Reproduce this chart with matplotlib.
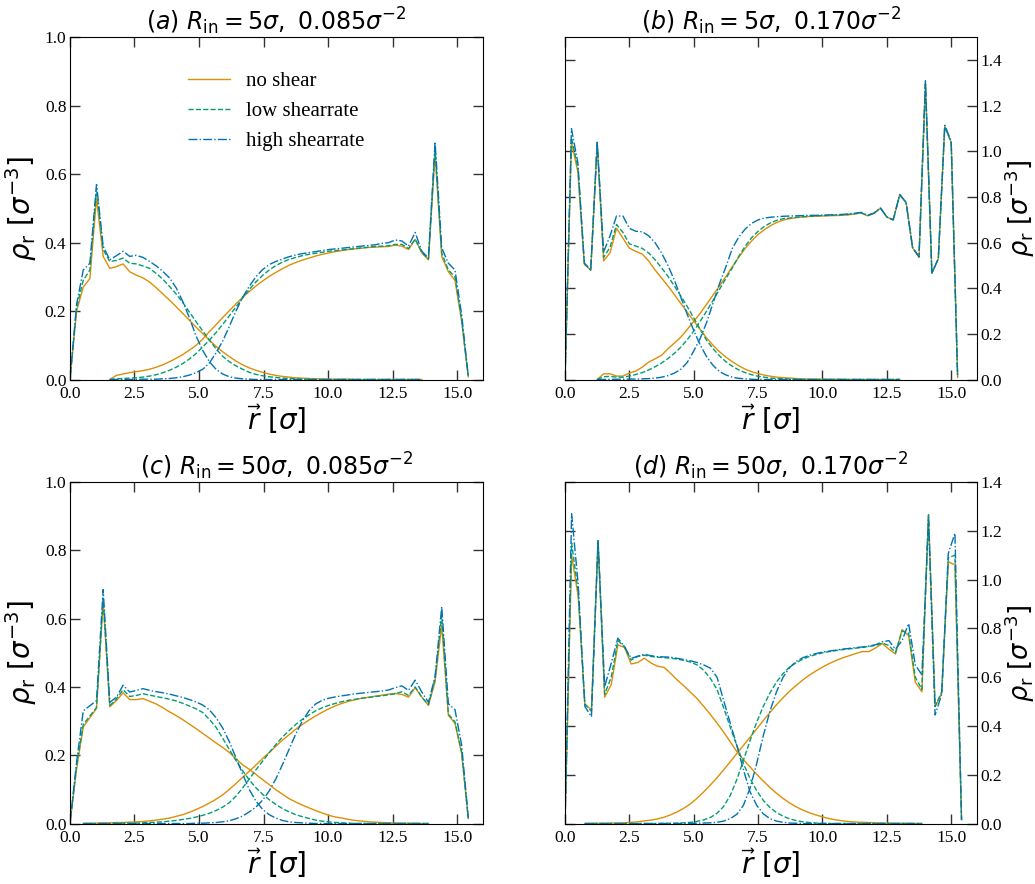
import numpy as np
import matplotlib
matplotlib.use('Agg')
import matplotlib.pyplot as plt

plt.rcParams['font.family'] = 'serif'
plt.rcParams['font.serif'] = ['Liberation Serif', 'DejaVu Serif']
plt.rcParams['mathtext.fontset'] = 'dejavusans'

# radial bins of the four profiles
r_a = np.arange(61) * 0.2572
r_b = np.arange(62) * 0.25
r_c = np.arange(61) * 0.2572
r_d = np.arange(61) * 0.2567

# (a) R_in = 5, 0.085 -- species 1 starts at r=0, species 2 ends at the wall
a1_none = [0.0, 0.20, 0.27, 0.295, 0.53, 0.36, 0.325, 0.33, 0.338, 0.315,
           0.305, 0.297, 0.285, 0.268, 0.25, 0.232, 0.213, 0.193, 0.173, 0.153,
           0.134, 0.115, 0.097, 0.081, 0.067, 0.054, 0.043, 0.034, 0.027, 0.021,
           0.016, 0.012, 0.009, 0.007, 0.005, 0.004, 0.003, 0.002, 0.002, 0.001,
           0.001, 0.001, 0.001, 0.0, 0.0, 0.0, 0.0, 0.0, 0.0, 0.0,
           0.0, 0.0, 0.0, 0.0]
a1_low = [0.0, 0.21, 0.29, 0.32, 0.56, 0.38, 0.345, 0.348, 0.355, 0.34,
          0.338, 0.332, 0.325, 0.31, 0.293, 0.272, 0.25, 0.225, 0.197, 0.169,
          0.142, 0.115, 0.09, 0.068, 0.052, 0.04, 0.03, 0.021, 0.015, 0.011,
          0.008, 0.006, 0.004, 0.003, 0.002, 0.001, 0.001, 0.0, 0.0, 0.0,
          0.0, 0.0, 0.0, 0.0, 0.0, 0.0, 0.0, 0.0, 0.0, 0.0,
          0.0, 0.0, 0.0, 0.0]
a1_high = [0.0, 0.22, 0.32, 0.34, 0.57, 0.39, 0.35, 0.362, 0.375, 0.36,
           0.363, 0.357, 0.345, 0.332, 0.316, 0.297, 0.268, 0.228, 0.18, 0.127,
           0.085, 0.052, 0.03, 0.016, 0.008, 0.004, 0.002, 0.001, 0.0, 0.0,
           0.0, 0.0, 0.0, 0.0, 0.0, 0.0, 0.0, 0.0, 0.0, 0.0,
           0.0, 0.0, 0.0, 0.0, 0.0, 0.0, 0.0, 0.0, 0.0, 0.0,
           0.0, 0.0, 0.0, 0.0]
a2_none = [0.0, 0.012, 0.016, 0.02, 0.023, 0.026, 0.03, 0.036, 0.043, 0.052,
           0.062, 0.073, 0.086, 0.1, 0.118, 0.14, 0.16, 0.181, 0.201, 0.221,
           0.24, 0.257, 0.273, 0.288, 0.301, 0.313, 0.324, 0.334, 0.342, 0.349,
           0.355, 0.361, 0.366, 0.37, 0.374, 0.377, 0.38, 0.382, 0.384, 0.386,
           0.387, 0.388, 0.389, 0.393, 0.39, 0.38, 0.41, 0.37, 0.35, 0.66,
           0.36, 0.315, 0.29, 0.17, 0.008]
a2_low = [0.0, 0.002, 0.003, 0.004, 0.005, 0.007, 0.01, 0.014, 0.02, 0.027,
          0.036, 0.047, 0.06, 0.076, 0.095, 0.115, 0.137, 0.161, 0.186, 0.212,
          0.238, 0.263, 0.285, 0.304, 0.32, 0.333, 0.343, 0.351, 0.357, 0.362,
          0.366, 0.369, 0.372, 0.375, 0.377, 0.379, 0.381, 0.383, 0.385, 0.387,
          0.389, 0.39, 0.391, 0.395, 0.395, 0.383, 0.41, 0.372, 0.352, 0.675,
          0.37, 0.32, 0.3, 0.175, 0.008]
a2_high = [0.0, 0.0, 0.0, 0.0, 0.0, 0.001, 0.001, 0.001, 0.002, 0.003,
           0.005, 0.008, 0.013, 0.02, 0.03, 0.048, 0.078, 0.112, 0.155, 0.2,
           0.24, 0.272, 0.3, 0.321, 0.336, 0.345, 0.352, 0.359, 0.364, 0.368,
           0.371, 0.374, 0.377, 0.38, 0.382, 0.384, 0.386, 0.388, 0.39, 0.392,
           0.394, 0.398, 0.4, 0.408, 0.405, 0.39, 0.43, 0.375, 0.355, 0.695,
           0.385, 0.34, 0.32, 0.19, 0.01]

# (b) R_in = 5, 0.170
b1_none = [0.0, 1.04, 0.91, 0.505, 0.48, 1.035, 0.52, 0.556, 0.663, 0.62,
           0.576, 0.562, 0.55, 0.52, 0.48, 0.445, 0.41, 0.372, 0.333, 0.295,
           0.257, 0.22, 0.182, 0.15, 0.122, 0.098, 0.078, 0.06, 0.045, 0.034,
           0.026, 0.019, 0.014, 0.01, 0.008, 0.006, 0.004, 0.003, 0.002, 0.002,
           0.001, 0.001, 0.001, 0.001, 0.0, 0.0, 0.0, 0.0, 0.0, 0.0,
           0.0, 0.0, 0.0]
b1_low = [0.0, 1.06, 0.93, 0.51, 0.48, 1.04, 0.535, 0.58, 0.68, 0.645,
          0.595, 0.585, 0.575, 0.555, 0.525, 0.49, 0.452, 0.41, 0.366, 0.32,
          0.27, 0.22, 0.172, 0.135, 0.104, 0.078, 0.058, 0.042, 0.03, 0.021,
          0.014, 0.01, 0.006, 0.004, 0.003, 0.002, 0.001, 0.0, 0.0, 0.0,
          0.0, 0.0, 0.0, 0.0, 0.0, 0.0, 0.0, 0.0, 0.0, 0.0,
          0.0, 0.0, 0.0]
b1_high = [0.0, 1.10, 0.95, 0.51, 0.48, 1.04, 0.56, 0.63, 0.717, 0.717,
           0.663, 0.65, 0.648, 0.63, 0.6, 0.555, 0.5, 0.435, 0.36, 0.285,
           0.215, 0.152, 0.1, 0.062, 0.035, 0.02, 0.01, 0.005, 0.003, 0.001,
           0.0, 0.0, 0.0, 0.0, 0.0, 0.0, 0.0, 0.0, 0.0, 0.0,
           0.0, 0.0, 0.0, 0.0, 0.0, 0.0, 0.0, 0.0, 0.0, 0.0,
           0.0, 0.0, 0.0]
b2_none = [0.0, 0.025, 0.025, 0.015, 0.015, 0.028, 0.037, 0.054, 0.076, 0.091,
           0.106, 0.135, 0.16, 0.186, 0.22, 0.255, 0.29, 0.33, 0.37, 0.41,
           0.452, 0.495, 0.537, 0.575, 0.608, 0.636, 0.658, 0.676, 0.69, 0.7,
           0.706, 0.71, 0.713, 0.715, 0.716, 0.717, 0.718, 0.719, 0.72, 0.722,
           0.726, 0.73, 0.718, 0.728, 0.751, 0.712, 0.70, 0.81, 0.775, 0.578,
           0.537, 1.30, 0.466, 0.53, 1.11, 1.04, 0.01]
b2_low = [0.0, 0.012, 0.014, 0.01, 0.01, 0.015, 0.022, 0.03, 0.042, 0.056,
          0.072, 0.092, 0.115, 0.142, 0.175, 0.212, 0.255, 0.3, 0.347, 0.395,
          0.443, 0.49, 0.54, 0.585, 0.622, 0.65, 0.672, 0.688, 0.699, 0.706,
          0.708, 0.712, 0.714, 0.716, 0.718, 0.719, 0.72, 0.721, 0.722, 0.724,
          0.727, 0.731, 0.719, 0.729, 0.752, 0.713, 0.70, 0.81, 0.776, 0.578,
          0.537, 1.30, 0.466, 0.53, 1.11, 1.04, 0.01]
b2_high = [0.0, 0.0, 0.001, 0.001, 0.001, 0.002, 0.002, 0.003, 0.004, 0.006,
           0.01, 0.017, 0.028, 0.045, 0.075, 0.125, 0.18, 0.25, 0.335, 0.42,
           0.495, 0.575, 0.625, 0.66, 0.685, 0.7, 0.708, 0.712, 0.714, 0.716,
           0.717, 0.718, 0.719, 0.72, 0.72, 0.721, 0.722, 0.723, 0.724, 0.726,
           0.729, 0.733, 0.72, 0.73, 0.753, 0.713, 0.70, 0.812, 0.776, 0.579,
           0.538, 1.31, 0.466, 0.53, 1.115, 1.045, 0.01]

# (c) R_in = 50, 0.085
c1_none = [0.0, 0.16, 0.283, 0.31, 0.337, 0.65, 0.342, 0.36, 0.383, 0.363,
           0.363, 0.366, 0.358, 0.35, 0.339, 0.327, 0.316, 0.304, 0.291, 0.278,
           0.264, 0.25, 0.236, 0.223, 0.208, 0.19, 0.172, 0.159, 0.144, 0.129,
           0.114, 0.099, 0.086, 0.073, 0.063, 0.054, 0.046, 0.038, 0.031, 0.024,
           0.019, 0.016, 0.012, 0.009, 0.007, 0.005, 0.004, 0.003, 0.002, 0.002,
           0.001, 0.001, 0.001, 0.0, 0.0]
c1_low = [0.0, 0.17, 0.29, 0.315, 0.34, 0.66, 0.345, 0.365, 0.392, 0.372,
          0.375, 0.38, 0.376, 0.372, 0.368, 0.364, 0.359, 0.352, 0.344, 0.336,
          0.325, 0.305, 0.282, 0.25, 0.217, 0.185, 0.155, 0.128, 0.105, 0.086,
          0.07, 0.056, 0.044, 0.034, 0.026, 0.02, 0.015, 0.01, 0.007, 0.005,
          0.003, 0.002, 0.001, 0.0, 0.0, 0.0, 0.0, 0.0, 0.0, 0.0,
          0.0, 0.0, 0.0, 0.0, 0.0]
c1_high = [0.0, 0.18, 0.33, 0.345, 0.36, 0.685, 0.355, 0.37, 0.405, 0.385,
           0.39, 0.395, 0.39, 0.386, 0.383, 0.379, 0.374, 0.369, 0.363, 0.356,
           0.347, 0.333, 0.31, 0.28, 0.24, 0.193, 0.145, 0.1, 0.066, 0.042,
           0.026, 0.016, 0.009, 0.005, 0.003, 0.002, 0.001, 0.0, 0.0, 0.0,
           0.0, 0.0, 0.0, 0.0, 0.0, 0.0, 0.0, 0.0, 0.0, 0.0,
           0.0, 0.0, 0.0, 0.0, 0.0]
c2_none = [0.0, 0.001, 0.001, 0.002, 0.002, 0.003, 0.003, 0.004, 0.005, 0.006,
           0.008, 0.01, 0.013, 0.016, 0.021, 0.026, 0.033, 0.041, 0.05, 0.06,
           0.071, 0.084, 0.1, 0.117, 0.135, 0.153, 0.171, 0.19, 0.208, 0.226,
           0.244, 0.26, 0.276, 0.29, 0.303, 0.315, 0.326, 0.336, 0.345, 0.352,
           0.358, 0.363, 0.367, 0.37, 0.373, 0.376, 0.379, 0.381, 0.378, 0.37,
           0.398, 0.37, 0.346, 0.415, 0.58, 0.317, 0.293, 0.205, 0.015]
c2_low = [0.0, 0.0, 0.0, 0.0, 0.0, 0.001, 0.001, 0.001, 0.001, 0.002,
          0.003, 0.004, 0.005, 0.007, 0.009, 0.012, 0.015, 0.019, 0.024, 0.03,
          0.038, 0.048, 0.061, 0.08, 0.104, 0.13, 0.157, 0.182, 0.207, 0.231,
          0.253, 0.272, 0.29, 0.305, 0.318, 0.33, 0.339, 0.346, 0.352, 0.357,
          0.361, 0.364, 0.367, 0.369, 0.372, 0.374, 0.377, 0.38, 0.386, 0.375,
          0.4, 0.37, 0.348, 0.425, 0.61, 0.32, 0.298, 0.21, 0.015]
c2_high = [0.0, 0.0, 0.0, 0.0, 0.0, 0.0, 0.0, 0.0, 0.0, 0.0,
           0.0, 0.0, 0.0, 0.0, 0.0, 0.0, 0.0, 0.001, 0.001, 0.002,
           0.003, 0.005, 0.008, 0.014, 0.022, 0.034, 0.048, 0.068, 0.095, 0.13,
           0.172, 0.217, 0.262, 0.3, 0.33, 0.35, 0.361, 0.367, 0.371, 0.374,
           0.377, 0.38, 0.382, 0.384, 0.386, 0.388, 0.391, 0.398, 0.403, 0.39,
           0.42, 0.385, 0.355, 0.43, 0.635, 0.351, 0.333, 0.23, 0.018]

# (d) R_in = 50, 0.170
d1_none = [0.0, 1.10, 0.93, 0.49, 0.466, 1.16, 0.518, 0.57, 0.732, 0.722,
           0.654, 0.66, 0.678, 0.658, 0.645, 0.64, 0.615, 0.588, 0.564, 0.538,
           0.512, 0.48, 0.447, 0.412, 0.375, 0.335, 0.295, 0.262, 0.232, 0.202,
           0.174, 0.148, 0.124, 0.103, 0.084, 0.068, 0.055, 0.044, 0.035, 0.027,
           0.02, 0.015, 0.011, 0.008, 0.006, 0.005, 0.004, 0.003, 0.002, 0.002,
           0.001, 0.001, 0.001, 0.0, 0.0]
d1_low = [0.0, 1.15, 0.95, 0.49, 0.46, 1.16, 0.53, 0.6, 0.75, 0.725,
          0.67, 0.685, 0.69, 0.685, 0.682, 0.68, 0.678, 0.674, 0.669, 0.662,
          0.65, 0.628, 0.595, 0.55, 0.475, 0.395, 0.32, 0.245, 0.185, 0.135,
          0.095, 0.066, 0.045, 0.03, 0.019, 0.012, 0.007, 0.004, 0.002, 0.001,
          0.0, 0.0, 0.0, 0.0, 0.0, 0.0, 0.0, 0.0, 0.0, 0.0,
          0.0, 0.0, 0.0, 0.0, 0.0]
d1_high = [0.0, 1.27, 0.98, 0.48, 0.438, 1.16, 0.561, 0.658, 0.76, 0.725,
           0.677, 0.686, 0.694, 0.688, 0.684, 0.683, 0.682, 0.677, 0.672, 0.667,
           0.66, 0.65, 0.637, 0.6, 0.505, 0.412, 0.32, 0.22, 0.13, 0.075,
           0.04, 0.02, 0.01, 0.005, 0.002, 0.001, 0.0, 0.0, 0.0, 0.0,
           0.0, 0.0, 0.0, 0.0, 0.0, 0.0, 0.0, 0.0, 0.0, 0.0,
           0.0, 0.0, 0.0, 0.0, 0.0]
d2_none = [0.0, 0.001, 0.001, 0.001, 0.002, 0.002, 0.003, 0.005, 0.007, 0.011,
           0.014, 0.019, 0.026, 0.036, 0.048, 0.063, 0.081, 0.104, 0.13, 0.158,
           0.188, 0.22, 0.253, 0.287, 0.32, 0.354, 0.388, 0.422, 0.455, 0.487,
           0.516, 0.543, 0.567, 0.589, 0.609, 0.626, 0.642, 0.656, 0.668, 0.679,
           0.688, 0.697, 0.705, 0.705, 0.72, 0.738, 0.715, 0.695, 0.795, 0.77,
           0.58, 0.54, 1.265, 0.48, 0.534, 1.073, 1.06, 0.015]
d2_low = [0.0, 0.0, 0.0, 0.0, 0.0, 0.0, 0.0, 0.0, 0.0, 0.0,
          0.0, 0.0, 0.001, 0.001, 0.002, 0.003, 0.005, 0.009, 0.015, 0.025,
          0.042, 0.07, 0.115, 0.18, 0.26, 0.34, 0.415, 0.48, 0.535, 0.58,
          0.615, 0.642, 0.66, 0.674, 0.685, 0.693, 0.7, 0.705, 0.709, 0.713,
          0.716, 0.719, 0.722, 0.726, 0.73, 0.74, 0.73, 0.7, 0.79, 0.78,
          0.6, 0.55, 1.27, 0.48, 0.54, 1.09, 1.1, 0.015]
d2_high = [0.0, 0.0, 0.0, 0.0, 0.0, 0.0, 0.0, 0.0, 0.0, 0.0,
           0.0, 0.0, 0.0, 0.0, 0.0, 0.0, 0.001, 0.001, 0.002, 0.003,
           0.005, 0.01, 0.02, 0.038, 0.075, 0.145, 0.245, 0.36, 0.46, 0.54,
           0.6, 0.64, 0.665, 0.68, 0.69, 0.697, 0.703, 0.707, 0.711, 0.715,
           0.718, 0.721, 0.724, 0.728, 0.733, 0.745, 0.75, 0.715, 0.75, 0.82,
           0.65, 0.61, 1.245, 0.445, 0.53, 1.108, 1.19, 0.015]

labels = ['no shear', 'low shearrate', 'high shearrate']
colors = ['#de8f05', '#029e73', '#0173b2']
styles = ['-', '--', '-.']


def draw_panel(ax, r, inner, outer, title, ymax, yticks, right=False):
    n = len(r)
    for y1, y2, lab, c, ls in zip(inner, outer, labels, colors, styles):
        ax.plot(r[:len(y1)], y1, color=c, ls=ls, lw=1.0, label=lab)
        ax.plot(r[n - len(y2):], y2, color=c, ls=ls, lw=1.0)
    ax.set_xlim(0, 16)
    ax.set_ylim(0, ymax)
    ax.set_xticks([0, 2.5, 5, 7.5, 10, 12.5, 15])
    ax.set_xticklabels(['0.0', '2.5', '5.0', '7.5', '10.0', '12.5', '15.0'])
    ax.set_yticks(yticks)
    ax.set_yticklabels(['%.1f' % t for t in yticks])
    ax.tick_params(direction='in', length=7, width=1.0, top=True, right=True,
                   labelsize=12.5, color='#333333')
    ax.tick_params(axis='y', pad=2.5)
    ax.tick_params(axis='x', pad=5)
    ax.set_title(title, fontsize=17, pad=5)
    ax.set_xlabel(r'$\vec{r}\ [\sigma]$', fontsize=20, labelpad=0.5)
    if right:
        ax.tick_params(labelleft=False, labelright=True)
        ax.yaxis.set_label_position('right')
        ax.set_ylabel(r'$\rho_\mathrm{r}\ [\sigma^{-3}]$', fontsize=18.5, labelpad=0)
    else:
        ax.set_ylabel(r'$\rho_\mathrm{r}\ [\sigma^{-3}]$', fontsize=20)


fig = plt.figure(figsize=(10.35, 8.84), dpi=100)
ax_a = fig.add_axes([0.0676, 0.5707, 0.399, 0.3869])
ax_b = fig.add_axes([0.5459, 0.5707, 0.398, 0.3869])
ax_c = fig.add_axes([0.0676, 0.0684, 0.399, 0.3863])
ax_d = fig.add_axes([0.5459, 0.0684, 0.398, 0.3863])

tick_lo = [0.0, 0.2, 0.4, 0.6, 0.8, 1.0]
tick_hi = [0.0, 0.2, 0.4, 0.6, 0.8, 1.0, 1.2, 1.4]

draw_panel(ax_a, r_a, [a1_none, a1_low, a1_high], [a2_none, a2_low, a2_high],
           r'$(a)\ R_\mathrm{in} = 5\sigma,\ 0.085\sigma^{-2}$', 1.0, tick_lo)
draw_panel(ax_b, r_b, [b1_none, b1_low, b1_high], [b2_none, b2_low, b2_high],
           r'$(b)\ R_\mathrm{in} = 5\sigma,\ 0.170\sigma^{-2}$', 1.5, tick_hi, right=True)
draw_panel(ax_c, r_c, [c1_none, c1_low, c1_high], [c2_none, c2_low, c2_high],
           r'$(c)\ R_\mathrm{in} = 50\sigma,\ 0.085\sigma^{-2}$', 1.0, tick_lo)
draw_panel(ax_d, r_d, [d1_none, d1_low, d1_high], [d2_none, d2_low, d2_high],
           r'$(d)\ R_\mathrm{in} = 50\sigma,\ 0.170\sigma^{-2}$', 1.4, tick_hi, right=True)

ax_a.legend(loc='upper center', bbox_to_anchor=(0.5, 0.955), frameon=False,
            fontsize=15, handlelength=2.0, handletextpad=0.8, labelspacing=0.5)

fig.savefig('out.png', dpi=100)
